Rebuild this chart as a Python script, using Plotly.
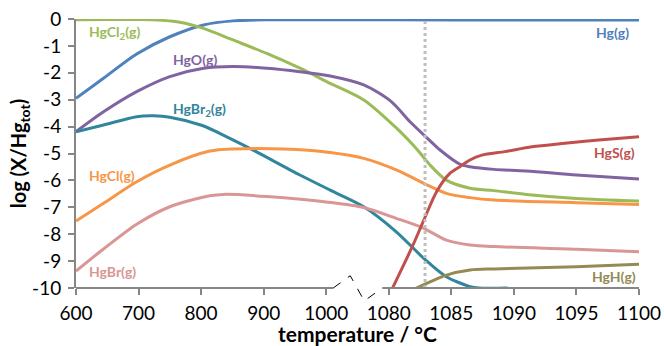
import plotly.graph_objects as go

# ---- axis ticks ----
TICK_TEMPS = [600, 700, 800, 900, 1000, 1080, 1085, 1090, 1095, 1100]
TICK_LABELS = [str(t) for t in TICK_TEMPS]
Y_TICKS = list(range(0, -11, -1))
T_MARK = 1082.9  # dotted vertical marker

# ---- series (temperature in degC, log(X/Hg_tot)) ----
hg_T = [600, 644, 697, 750, 804, 851, 905, 1000, 1050, 1080, 1090, 1100]
hg_v = [-2.95, -2.2, -1.3, -0.66, -0.22, -0.07, -0.03, -0.03, -0.03, -0.03, -0.04, -0.04]

hgcl2_T = [600, 650, 700, 723, 766, 804, 851, 905, 958, 1005, 1048, 1080.6, 1082.3,
           1083.3, 1084.6, 1086.5, 1088.4, 1091, 1095, 1100]
hgcl2_v = [-0.03, -0.02, -0.02, -0.03, -0.12, -0.35, -0.78, -1.28, -1.83, -2.39, -3.01, -4.05, -4.87,
           -5.43, -5.99, -6.29, -6.38, -6.52, -6.67, -6.77]

hgo_T = [600, 644, 697, 750, 804, 851, 905, 958, 1005, 1048, 1080.2, 1081.7, 1083.1,
         1084.1, 1085.7, 1086.5, 1088.4, 1091, 1095, 1100]
hgo_v = [-4.19, -3.45, -2.7, -2.14, -1.83, -1.77, -1.83, -1.96, -2.12, -2.45, -3.07, -3.82, -4.44,
         -4.87, -5.4, -5.49, -5.59, -5.65, -5.8, -5.95]

hgbr2_T = [600, 644, 697, 724, 750, 802, 841, 878, 958, 1005, 1048, 1080.6, 1082.8,
           1084.6, 1086.5, 1087.2, 1089.5]
hgbr2_v = [-4.19, -3.94, -3.63, -3.6, -3.65, -3.96, -4.38, -4.81, -5.8, -6.36, -6.98, -7.91, -8.9,
           -9.58, -9.95, -10.0, -10.0]

hgcl_T = [600, 644, 697, 750, 814, 852, 932, 1005, 1048, 1080.6, 1082.8, 1084.6,
          1086.5, 1088.4, 1095, 1100]
hgcl_v = [-7.51, -6.85, -6.05, -5.43, -4.91, -4.83, -4.83, -4.96, -5.18, -5.61, -6.11, -6.48,
          -6.64, -6.73, -6.83, -6.9]

hgbr_T = [600, 644, 697, 750, 814, 836, 905, 1005, 1048, 1080.6, 1082.8, 1084.6,
          1086.5, 1088.4, 1095, 1100]
hgbr_v = [-9.37, -8.55, -7.63, -6.98, -6.57, -6.52, -6.6, -6.82, -7.01, -7.41, -7.78, -8.22,
          -8.4, -8.46, -8.56, -8.65]

hgs_T = [1080.2, 1081.94, 1082.74, 1083.82, 1084.88, 1085.68, 1086.48, 1087.44, 1089.28,
         1091.44, 1094.08, 1096.78, 1100]
hgs_v = [-10.1, -8.4, -7.54, -6.42, -5.74, -5.49, -5.24, -5.06, -4.93,
         -4.75, -4.62, -4.5, -4.38]

hgh_T = [1081.9, 1083.3, 1084.6, 1086.5, 1088.4, 1095, 1100]
hgh_v = [-10.07, -9.77, -9.52, -9.33, -9.29, -9.21, -9.12]


def to_axis(T):
    """Broken temperature axis: 600-1000 | break 1000-1080 | 1080-1100."""
    if T <= 1000:
        return (T - 600) / 100.0
    if T < 1080:
        return 4 + (T - 1000) / 80.0
    return 5 + (T - 1080) / 5.0


series = [
    ("Hg(g)", hg_T, hg_v, "#4F81BD"),
    ("HgCl2(g)", hgcl2_T, hgcl2_v, "#9BBB59"),
    ("HgO(g)", hgo_T, hgo_v, "#8064A2"),
    ("HgBr2(g)", hgbr2_T, hgbr2_v, "#31859C"),
    ("HgCl(g)", hgcl_T, hgcl_v, "#F79646"),
    ("HgBr(g)", hgbr_T, hgbr_v, "#D99694"),
    ("HgS(g)", hgs_T, hgs_v, "#C0504D"),
    ("HgH(g)", hgh_T, hgh_v, "#948A54"),
]

fig = go.Figure()
for name, T, v, col in series:
    fig.add_trace(go.Scatter(
        x=[to_axis(t) for t in T], y=v, mode="lines", name=name,
        line=dict(color=col, width=3, shape="spline", smoothing=0.8),
        hoverinfo="skip", showlegend=False))

FONT = "Lato, Open Sans, sans-serif"
labels = [
    ("HgCl<sub>2</sub>(g)", 0.17, -0.52, "left", "#9BBB59"),
    ("Hg(g)", 8.87, -0.52, "right", "#4F81BD"),
    ("HgO(g)", 1.52, -1.52, "left", "#8064A2"),
    ("HgBr<sub>2</sub>(g)", 1.52, -3.38, "left", "#31859C"),
    ("HgCl(g)", 0.17, -5.8, "left", "#F79646"),
    ("HgBr(g)", 0.17, -9.4, "left", "#D99694"),
    ("HgS(g)", 8.97, -4.98, "right", "#C0504D"),
    ("HgH(g)", 8.99, -9.59, "right", "#948A54"),
]
for txt, x, y, anc, col in labels:
    fig.add_annotation(x=x, y=y, text="<b>" + txt + "</b>", showarrow=False,
                       xanchor=anc, yanchor="middle",
                       font=dict(family=FONT, size=14, color=col))

AX = "#868686"
# dotted marker line
xm = to_axis(T_MARK)
fig.add_shape(type="line", xref="x", yref="paper", x0=xm, x1=xm, y0=0, y1=1,
              line=dict(color="#BFBFBF", width=3, dash="dot"), layer="above")
# broken x-axis line + zigzag break symbol
xb0 = 0.4569
xb1 = 0.544
fig.add_shape(type="line", xref="paper", yref="paper", x0=0, x1=xb0, y0=0, y1=0,
              line=dict(color=AX, width=2), layer="above")
fig.add_shape(type="line", xref="paper", yref="paper", x0=xb1, x1=1, y0=0, y1=0,
              line=dict(color=AX, width=2), layer="above")
fig.add_shape(type="path", xref="paper", yref="paper",
              path=f"M {xb0},0 L 0.4871,0.0457 L 0.512,-0.048 L {xb1},0",
              line=dict(color="black", width=1, dash="dash"), layer="above")

fig.update_layout(
    width=664, height=346,
    margin=dict(l=76, r=25, t=19, b=58),
    paper_bgcolor="white", plot_bgcolor="white",
    font=dict(family=FONT, size=19, color="black"),
    xaxis=dict(range=[0, 9], tickmode="array", automargin=False,
               tickvals=[to_axis(t) for t in TICK_TEMPS], ticktext=TICK_LABELS,
               showgrid=False, zeroline=False, showline=False,
               ticks="outside", ticklen=6, tickwidth=1.5, tickcolor=AX,
               ticklabelstandoff=2, ticklabeloverflow="allow",
               title=dict(text="<b>temperature / °C</b>", font=dict(size=21), standoff=9)),
    yaxis=dict(range=[-10, 0], tickmode="array", tickvals=Y_TICKS, automargin=False,
               ticktext=[str(t) for t in Y_TICKS],
               showgrid=False, zeroline=False, showline=True, linecolor=AX, linewidth=2,
               ticks="outside", ticklen=6, tickwidth=1.5, tickcolor=AX,
               ticklabelstandoff=3, ticklabeloverflow="allow",
               title=dict(text="<b>log (X/Hg<sub>tot</sub>)</b>", font=dict(size=20), standoff=0)),
)

# remove the default 8px page margin so the figure fills the window exactly
fig.write_html("out.html", config={"displayModeBar": False},
               post_script="document.body.style.margin='0';document.body.style.overflow='hidden';")
